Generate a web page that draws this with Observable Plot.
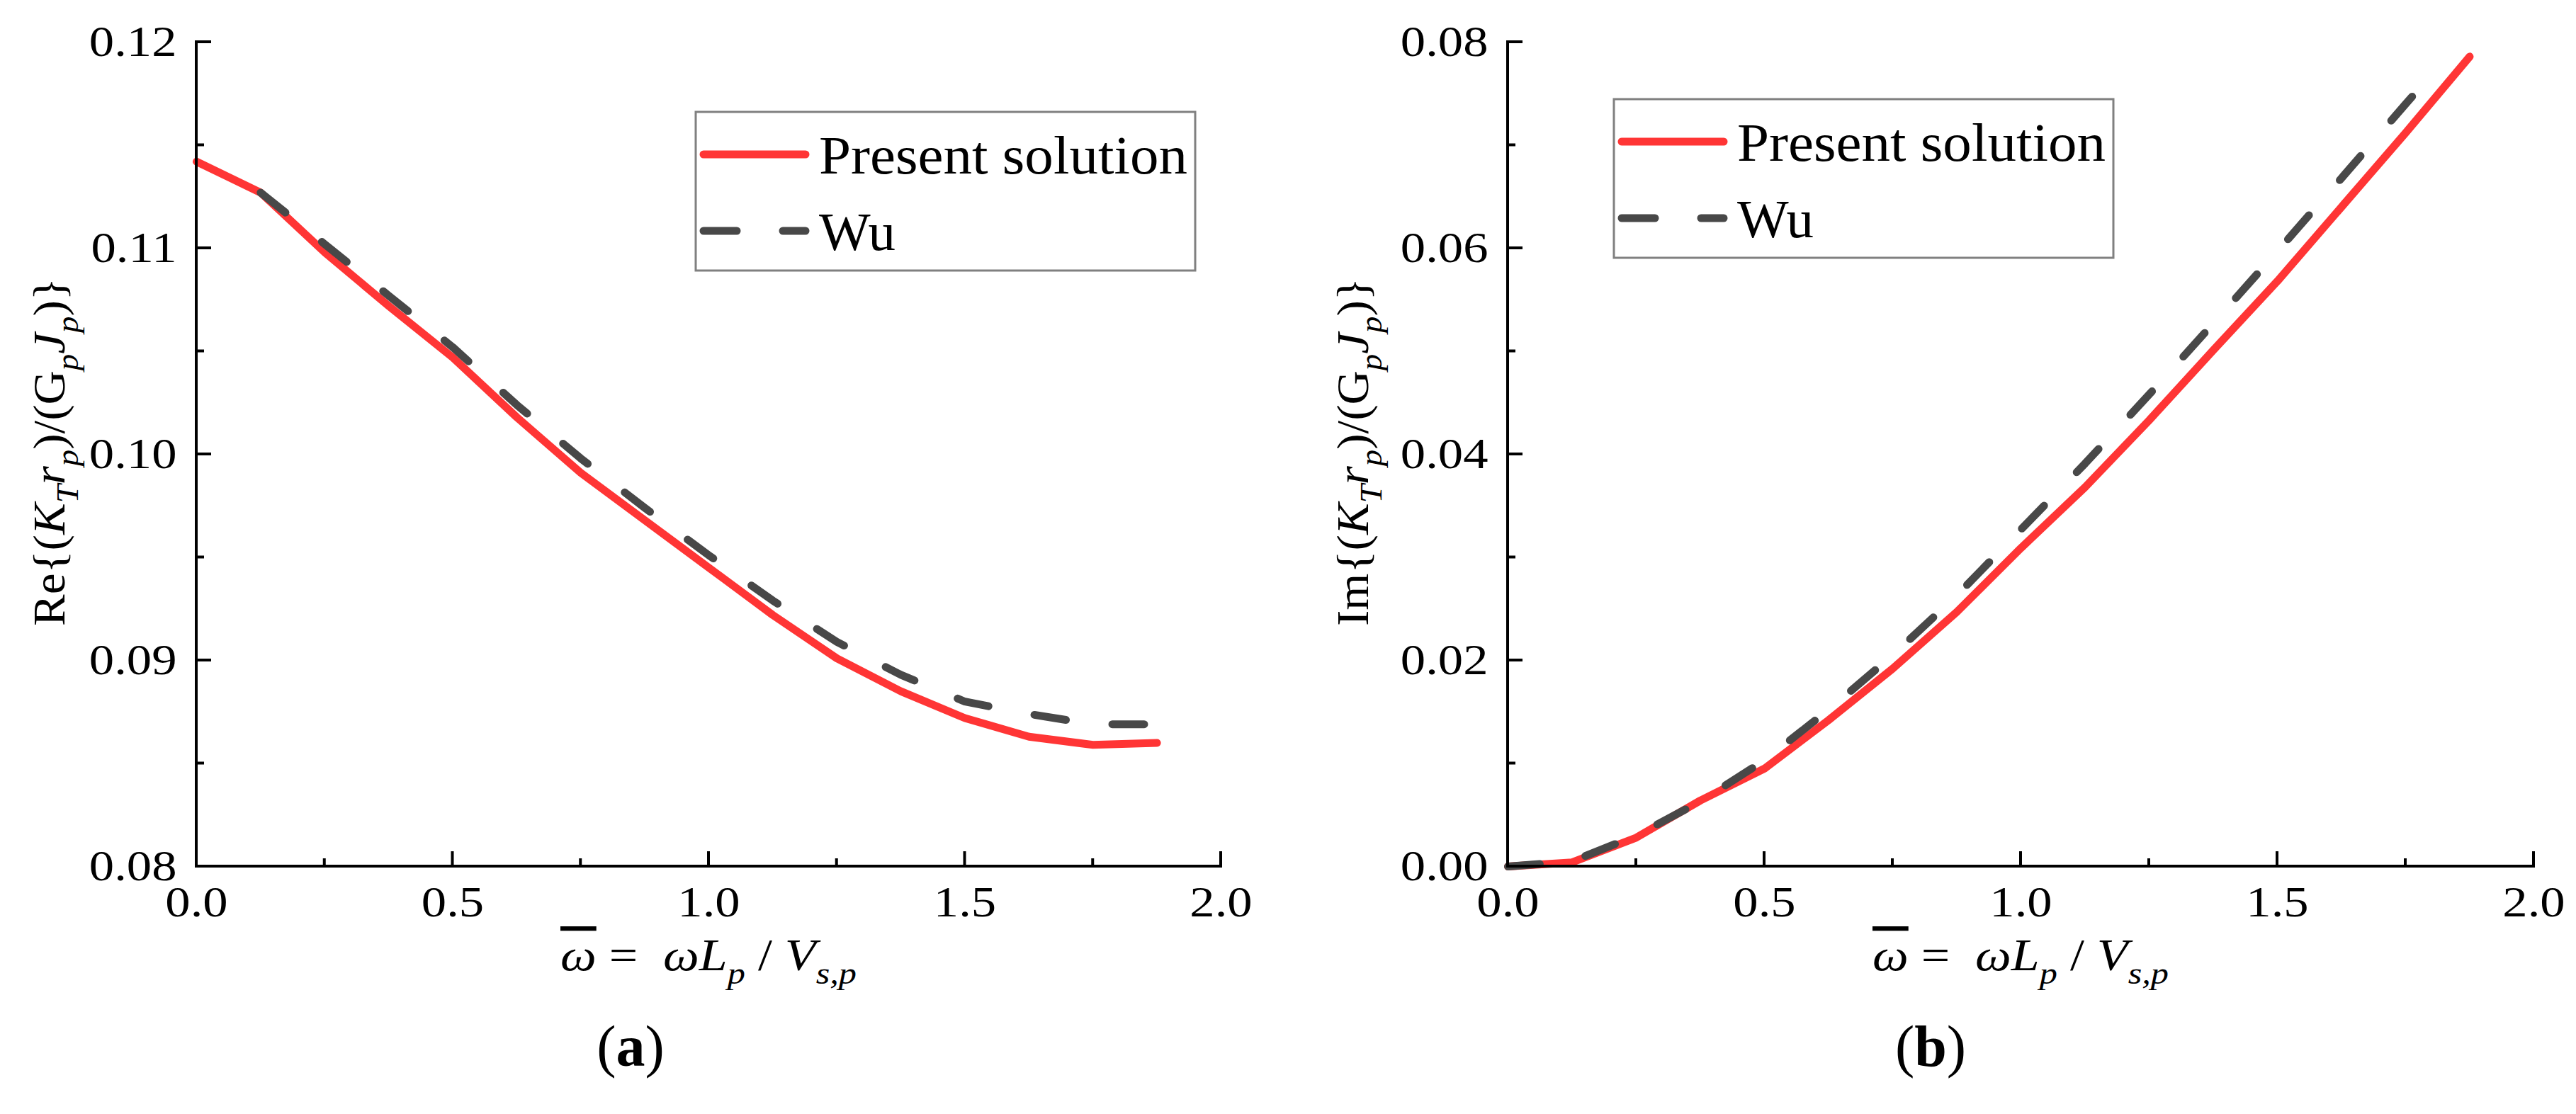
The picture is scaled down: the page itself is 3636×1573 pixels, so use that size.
<!DOCTYPE html>
<html><head><meta charset="utf-8">
<script src="https://cdn.jsdelivr.net/npm/d3@7"></script>
<script src="https://cdn.jsdelivr.net/npm/@observablehq/plot@0.6"></script>
<style>
html,body{margin:0;padding:0;background:#fff;}
#wrap{position:relative;width:3636px;height:1573px;overflow:hidden;background:#fff;}
#wrap svg{position:absolute;top:0;max-width:none;}
</style></head><body><div id="wrap"></div>
<script>
// ---- data ----
const omega = [0, 0.125, 0.25, 0.375, 0.5, 0.625, 0.75, 0.875, 1.0, 1.125, 1.25, 1.375, 1.5, 1.625, 1.75, 1.875];
const reSolution = [0.1142, 0.1127, 0.1098, 0.1072, 0.1047, 0.1018, 0.0991, 0.0968, 0.0945, 0.0922, 0.0901, 0.0885, 0.0872, 0.0863, 0.0859, 0.0860];
const reWuOmega = [0.125, 0.25, 0.375, 0.5, 0.625, 0.75, 0.875, 1.0, 1.125, 1.25, 1.375, 1.5, 1.625, 1.75, 1.875];
const reWu = [0.1127, 0.1102, 0.1077, 0.1052, 0.1024, 0.0998, 0.0974, 0.0951, 0.0929, 0.0909, 0.0893, 0.0880, 0.0874, 0.0869, 0.0869];
const imSolution = [0.0000, 0.0004, 0.0028, 0.0064, 0.0095, 0.0142, 0.0192, 0.0247, 0.0309, 0.0368, 0.0433, 0.0501, 0.0568, 0.0640, 0.0712, 0.0786];
const imWuOmega = [0, 0.125, 0.25, 0.375, 0.5, 0.625, 0.75, 0.875, 1.0, 1.125, 1.25, 1.375, 1.5, 1.625, 1.75, 1.82];
const imWu = [0.0000, 0.0005, 0.0030, 0.0063, 0.0103, 0.0152, 0.0205, 0.0263, 0.0327, 0.0391, 0.0458, 0.0527, 0.0597, 0.0668, 0.0740, 0.0779];

const xTicks = [0, 0.5, 1.0, 1.5, 2.0];
const xMinor = [0.25, 0.75, 1.25, 1.75];
const reTicks = [0.08, 0.09, 0.10, 0.11, 0.12];
const reMinor = [0.085, 0.095, 0.105, 0.115];
const imTicks = [0.00, 0.02, 0.04, 0.06, 0.08];
const imMinor = [0.01, 0.03, 0.05, 0.07];
const seriesNames = ["Present solution", "Wu"];
const panelLetters = ["a", "b"];

// ---- style ----
const FONT = "'Liberation Serif', 'DejaVu Serif', serif";
const RED = "#ff3535";
const GRAY = "#484848";
const LW = 11;
const DASH = "45,66";

const wrap = document.getElementById("wrap");

function tspans(sel, parts, base) {
  let shift = 0;
  parts.forEach(([t, o = {}]) => {
    const ts = sel.append("tspan").text(t);
    const target = o.sub ? base * 0.3 : 0;
    const dy = target - shift;
    if (dy !== 0) ts.attr("dy", dy);
    shift = target;
    if (o.sub) ts.attr("font-size", base * 0.7);
    if (o.italic) ts.attr("font-style", "italic");
    if (o.bold) ts.attr("font-weight", "bold");
    if (o.over) ts.attr("text-decoration", "overline");
  });
}
// widen glyphs a little (reference uses a wider Palatino-like face)
function widen(node, factor, target) {
  const w = node.getComputedTextLength();
  if (!(w > 0)) return;
  const t = target || w * factor;
  node.setAttribute("textLength", t);
  node.setAttribute("lengthAdjust", "spacingAndGlyphs");
}

function panel(cfg) {
  const W = 1818, H = 1573;
  const svg = Plot.plot({
    width: W, height: H,
    marginLeft: cfg.ml, marginRight: cfg.mr, marginTop: 59, marginBottom: H - 1223,
    style: `font-family: ${FONT}; font-size: 60px; color: #000; background: transparent; overflow: visible;`,
    x: {domain: [0, 2]},
    y: {domain: cfg.yDomain},
    marks: [
      Plot.axisX({ticks: xTicks, tickSize: 0, tickPadding: 26, tickFormat: d3.format(".1f"), label: null, fontSize: 62, fontFamily: FONT}),
      Plot.axisY({ticks: cfg.yTicks, tickSize: 0, tickPadding: 28, tickFormat: d3.format(".2f"), label: null, fontSize: 62, fontFamily: FONT}),
      Plot.line(cfg.sol.x, {x: (d) => d, y: (d, i) => cfg.sol.y[i], stroke: RED, strokeWidth: LW, strokeLinejoin: "round", strokeLinecap: "round"}),
      Plot.line(cfg.wu.x, {x: (d) => d, y: (d, i) => cfg.wu.y[i], stroke: GRAY, strokeWidth: LW, strokeDasharray: DASH, strokeLinejoin: "round", strokeLinecap: "round"})
    ]
  });
  svg.style.left = cfg.left + "px";
  wrap.appendChild(svg);
  // tick labels
  svg.querySelectorAll("text").forEach(t => widen(t, 1.14));
  const sx = svg.scale("x"), sy = svg.scale("y");
  const X = (v) => sx.apply(v), Y = (v) => sy.apply(v);
  const s = d3.select(svg);
  const y0 = Y(cfg.yDomain[0]), y1 = Y(cfg.yDomain[1]);
  const x0 = X(0), x1 = X(2);
  const g = s.append("g").attr("stroke", "#000").attr("stroke-width", 4).attr("fill", "none");
  xTicks.forEach(v => g.append("line").attr("x1", X(v)).attr("x2", X(v)).attr("y1", y0).attr("y2", y0 - 21));
  xMinor.forEach(v => g.append("line").attr("x1", X(v)).attr("x2", X(v)).attr("y1", y0).attr("y2", y0 - 11));
  cfg.yTicks.forEach(v => g.append("line").attr("x1", x0).attr("x2", x0 + 21).attr("y1", Y(v)).attr("y2", Y(v)));
  cfg.yMinor.forEach(v => g.append("line").attr("x1", x0).attr("x2", x0 + 11).attr("y1", Y(v)).attr("y2", Y(v)));
  g.append("path").attr("d", `M${x0},${y1}V${y0}H${x1}`).attr("stroke-linecap", "square");

  // y label
  const yl = s.append("text").attr("transform", `translate(${cfg.ylx},638) rotate(-90)`)
    .attr("text-anchor", "middle").attr("font-family", FONT).attr("font-size", 63).attr("fill", "#000");
  tspans(yl, [
    [cfg.yPrefix + "{("], ["K", {italic: true}], ["T", {italic: true, sub: true}], ["r", {italic: true}], ["p", {italic: true, sub: true}],
    [")/(G"], ["p", {italic: true, sub: true}], ["J", {italic: true}], ["p", {italic: true, sub: true}], [")}"]
  ], 63);
  widen(yl.node(), 1, 492);

  // x label
  const xl = s.append("text").attr("x", (x0 + x1) / 2).attr("y", 1370)
    .attr("text-anchor", "middle").attr("font-family", FONT).attr("font-size", 63).attr("fill", "#000")
    .attr("xml:space", "preserve");
  tspans(xl, [
    ["\u03c9", {italic: true, over: true}], [" =  "], ["\u03c9L", {italic: true}], ["p", {italic: true, sub: true}],
    [" / "], ["V", {italic: true}], ["s,p", {italic: true, sub: true}]
  ], 63);
  widen(xl.node(), 1, 418);

  // caption
  const cap = s.append("text").attr("x", cfg.capX).attr("y", 1505).attr("text-anchor", "middle")
    .attr("font-family", FONT).attr("font-size", 82).attr("fill", "#000");
  tspans(cap, [["("], [cfg.letter, {bold: true}], [")"]], 82);

  // legend
  const L = cfg.leg;
  const lg = s.append("g");
  lg.append("rect").attr("x", L.x).attr("y", L.y).attr("width", 705).attr("height", 224)
    .attr("fill", "#fff").attr("stroke", "#808080").attr("stroke-width", 3);
  const rowY = [L.y + 60, L.y + 168];
  const cols = [RED, GRAY];
  const targets = [520, null];
  seriesNames.forEach((name, i) => {
    lg.append("line").attr("x1", L.x + 11).attr("x2", L.x + 155).attr("y1", rowY[i]).attr("y2", rowY[i])
      .attr("stroke", cols[i]).attr("stroke-width", LW).attr("stroke-linecap", "round")
      .attr("stroke-dasharray", i === 1 ? "47,65" : null);
    const t = lg.append("text").attr("x", L.x + 174).attr("y", rowY[i] + 27).attr("font-family", FONT)
      .attr("text-anchor", "start").attr("font-size", 77).attr("fill", "#000").text(name);
    if (targets[i]) widen(t.node(), 1, targets[i]);
  });
}

panel({
  left: 0, ml: 277, mr: 95, yDomain: [0.08, 0.12], yTicks: reTicks, yMinor: reMinor,
  sol: {x: omega, y: reSolution}, wu: {x: reWuOmega, y: reWu},
  ylx: 91, yPrefix: "Re", capX: 890, letter: panelLetters[0], leg: {x: 982, y: 158}
});
panel({
  left: 1818, ml: 310, mr: 60, yDomain: [0, 0.08], yTicks: imTicks, yMinor: imMinor,
  sol: {x: omega, y: imSolution}, wu: {x: imWuOmega, y: imWu},
  ylx: 113, yPrefix: "Im", capX: 907, letter: panelLetters[1], leg: {x: 460, y: 140}
});
</script></body></html>
